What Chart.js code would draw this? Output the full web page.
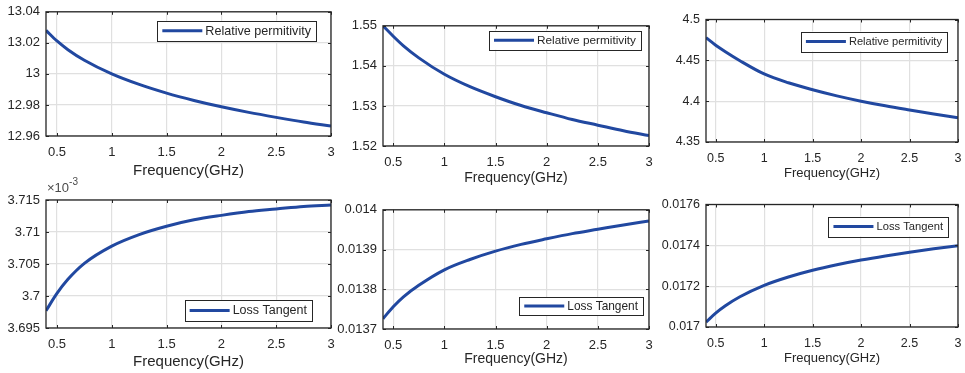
<!DOCTYPE html>
<html>
<head>
<meta charset="utf-8">
<script src="https://cdn.jsdelivr.net/npm/chart.js@4.4.0/dist/chart.umd.min.js"></script>
<style>
  body { margin: 0; background: #fff; }
  #wrap { position: relative; width: 965px; height: 373px; overflow: hidden; }
  .panel { position: absolute; }
</style>
</head>
<body>
<div id="wrap"></div>
<script>
// frequency samples (GHz)
var freq = [0.4, 0.5, 0.6, 0.75, 1, 1.25, 1.5, 1.75, 2, 2.25, 2.5, 2.75, 3];
var freqTicks = [0.5, 1, 1.5, 2, 2.5, 3];

// relative permittivity, three materials
var permA = [13.028, 13.0212, 13.0156, 13.0088, 13.000, 12.9932, 12.9876, 12.9829, 12.9788, 12.9752, 12.9720, 12.9690, 12.9664];
var permB = [1.5500, 1.5474, 1.5450, 1.5420, 1.5379, 1.5348, 1.5323, 1.5301, 1.5283, 1.5266, 1.5252, 1.5238, 1.5226];
var permC = [4.4778, 4.4685, 4.4605, 4.4495, 4.4333, 4.4225, 4.4140, 4.4065, 4.4000, 4.3943, 4.3892, 4.3843, 4.3798];

// loss tangent, same three materials (first one in units of 1e-3)
var lossA = [3.6977, 3.7004, 3.7026, 3.7051, 3.7078, 3.7096, 3.7109, 3.7119, 3.7126, 3.7132, 3.7136, 3.7140, 3.7142];
var lossB = [0.013726, 0.013756, 0.013781, 0.013810, 0.013849, 0.013875, 0.013896, 0.013913, 0.013927, 0.013940, 0.013951, 0.013962, 0.013972];
var lossC = [0.017024, 0.017068, 0.017104, 0.017148, 0.017204, 0.017245, 0.017278, 0.017305, 0.017328, 0.017348, 0.017366, 0.017383, 0.017398];

var permATicks = [12.96, 12.98, 13, 13.02, 13.04];
var permBTicks = [1.52, 1.53, 1.54, 1.55];
var permCTicks = [4.35, 4.4, 4.45, 4.5];
var lossATicks = [3.695, 3.7, 3.705, 3.71, 3.715];
var lossBTicks = [0.0137, 0.0138, 0.0139, 0.014];
var lossCTicks = [0.017, 0.0172, 0.0174, 0.0176];

var permLabel = 'Relative permitivity';
var lossLabel = 'Loss Tangent';
var xTitle = 'Frequency(GHz)';

var LINE = '#2148a0';
var INK = '#262626';
var GRID = '#e0e0e0';
var FONT = "'Liberation Sans', Arial, sans-serif";

// plot box of each panel in page pixels: [left, top, right, bottom]
var panels = [
  { y: permA, ticks: permATicks, label: permLabel, box: [46, 8, 331, 136],
    tick: 13, title: 15, titlePad: 6, legFont: 12.6, leg: { at: 'top', dx: 15, dy: 9, h: 20 } },
  { y: permB, ticks: permBTicks, label: permLabel, box: [383, 22, 649, 146],
    tick: 13, title: 14, titlePad: 9, legFont: 11.8, leg: { at: 'top', dx: 8, dy: 5, h: 19 } },
  { y: permC, ticks: permCTicks, label: permLabel, box: [706, 16, 958, 142],
    tick: 12.5, title: 13, titlePad: 11, legFont: 11.1, leg: { at: 'top', dx: 11, dy: 12, h: 20 } },
  { y: lossA, ticks: lossATicks, label: lossLabel, box: [46, 200, 331, 328], exp: '-3',
    tick: 13, title: 15, titlePad: 7, legFont: 12.5, leg: { at: 'bottom', dx: 19, dy: 7, h: 21 } },
  { y: lossB, ticks: lossBTicks, label: lossLabel, box: [383, 206, 649, 329],
    tick: 13, title: 14, titlePad: 11, legFont: 11.9, leg: { at: 'bottom', dx: 6, dy: 14, h: 18 } },
  { y: lossC, ticks: lossCTicks, label: lossLabel, box: [706, 201, 958, 327],
    tick: 12.5, title: 13, titlePad: 11, legFont: 11.2, leg: { at: 'top', dx: 10, dy: 12, h: 20 } }
];

// axes box, inward ticks, inset legend and exponent label
var matlabAxes = {
  id: 'matlabAxes',
  afterDraw: function(chart) {
    var p = chart.options.plugins.matlabAxes.panel;
    var ctx = chart.ctx, a = chart.chartArea;
    var xs = chart.scales.x, ys = chart.scales.y;
    ctx.save();
    ctx.strokeStyle = INK;
    ctx.lineWidth = 1;
    ctx.beginPath();
    xs.ticks.forEach(function(t) {
      var px = Math.round(xs.getPixelForValue(t.value)) + 0.5;
      ctx.moveTo(px, a.bottom); ctx.lineTo(px, a.bottom - 3);
      ctx.moveTo(px, a.top); ctx.lineTo(px, a.top + 3);
    });
    ys.ticks.forEach(function(t) {
      var py = Math.round(ys.getPixelForValue(t.value)) + 0.5;
      ctx.moveTo(a.left, py); ctx.lineTo(a.left + 3, py);
      ctx.moveTo(a.right, py); ctx.lineTo(a.right - 3, py);
    });
    ctx.stroke();
    ctx.lineWidth = 1.3;
    ctx.strokeRect(a.left, a.top, a.right - a.left, a.bottom - a.top);

    // legend box
    var ds = chart.data.datasets[0];
    ctx.font = p.legFont + 'px ' + FONT;
    var tw = ctx.measureText(ds.label).width;
    var w = 5 + 40 + 3 + tw + 5, h = p.leg.h;
    var x0 = a.right - p.leg.dx - w;
    var y0 = p.leg.at === 'top' ? a.top + p.leg.dy : a.bottom - p.leg.dy - h;
    ctx.fillStyle = '#fff';
    ctx.fillRect(x0, y0, w, h);
    ctx.lineWidth = 1;
    ctx.strokeStyle = INK;
    ctx.strokeRect(Math.round(x0) + 0.5, Math.round(y0) + 0.5, Math.round(w), Math.round(h));
    ctx.strokeStyle = ds.borderColor;
    ctx.lineWidth = 3;
    ctx.beginPath();
    ctx.moveTo(x0 + 5, y0 + h / 2);
    ctx.lineTo(x0 + 45, y0 + h / 2);
    ctx.stroke();
    ctx.fillStyle = INK;
    ctx.textBaseline = 'middle';
    ctx.fillText(ds.label, x0 + 48, y0 + h / 2 + 0.5);

    // exponent above the y axis
    if (p.exp) {
      ctx.font = '13px ' + FONT;
      ctx.fillStyle = '#4a4a4a';
      ctx.textBaseline = 'middle';
      var base = '\u00d710';
      ctx.fillText(base, a.left + 1, a.top - 12);
      var bw = ctx.measureText(base).width;
      ctx.font = '10px ' + FONT;
      ctx.fillText(p.exp, a.left + 1 + bw, a.top - 18);
    }
    ctx.restore();
  }
};

var wrap = document.getElementById('wrap');
var YW = 60, XH = 50, PADR = 14;

panels.forEach(function(p) {
  var padTop = p.exp ? 24 : 10;
  var l = p.box[0], t = p.box[1], r = p.box[2], b = p.box[3];
  var div = document.createElement('div');
  div.className = 'panel';
  div.style.left = (l - YW) + 'px';
  div.style.top = (t - padTop) + 'px';
  div.style.width = (r - l + YW + PADR) + 'px';
  div.style.height = (b - t + padTop + XH) + 'px';
  var canvas = document.createElement('canvas');
  div.appendChild(canvas);
  wrap.appendChild(div);

  var pts = freq.map(function(f, i) { return { x: f, y: p.y[i] }; });

  new Chart(canvas, {
    type: 'line',
    data: {
      datasets: [{
        label: p.label,
        data: pts,
        borderColor: LINE,
        borderWidth: 3,
        pointRadius: 0,
        cubicInterpolationMode: 'monotone',
        fill: false
      }]
    },
    options: {
      responsive: true,
      maintainAspectRatio: false,
      animation: false,
      layout: { padding: { top: padTop, right: PADR, left: 0, bottom: 0 } },
      plugins: {
        legend: { display: false },
        tooltip: { enabled: false },
        matlabAxes: { panel: p }
      },
      scales: {
        x: {
          type: 'linear',
          min: 0.4,
          max: 3,
          afterBuildTicks: function(s) { s.ticks = freqTicks.map(function(v) { return { value: v }; }); },
          afterFit: function(s) { s.height = XH; },
          grid: { color: GRID, lineWidth: 1.2, drawTicks: false },
          border: { display: false },
          ticks: {
            padding: 9,
            maxRotation: 0,
            color: INK,
            font: { family: FONT, size: p.tick },
            callback: function(v) { return String(v); }
          },
          title: {
            display: true,
            text: xTitle,
            color: INK,
            font: { family: FONT, size: p.title },
            padding: { top: 0, bottom: p.titlePad }
          }
        },
        y: {
          type: 'linear',
          min: p.ticks[0],
          max: p.ticks[p.ticks.length - 1],
          afterBuildTicks: function(s) { s.ticks = p.ticks.map(function(v) { return { value: v }; }); },
          afterFit: function(s) { s.width = YW; },
          grid: { color: GRID, lineWidth: 1.2, drawTicks: false },
          border: { display: false },
          ticks: {
            padding: 6,
            color: INK,
            font: { family: FONT, size: p.tick },
            callback: function(v) { return String(v); }
          }
        }
      }
    },
    plugins: [matlabAxes]
  });
});
</script>
</body>
</html>
